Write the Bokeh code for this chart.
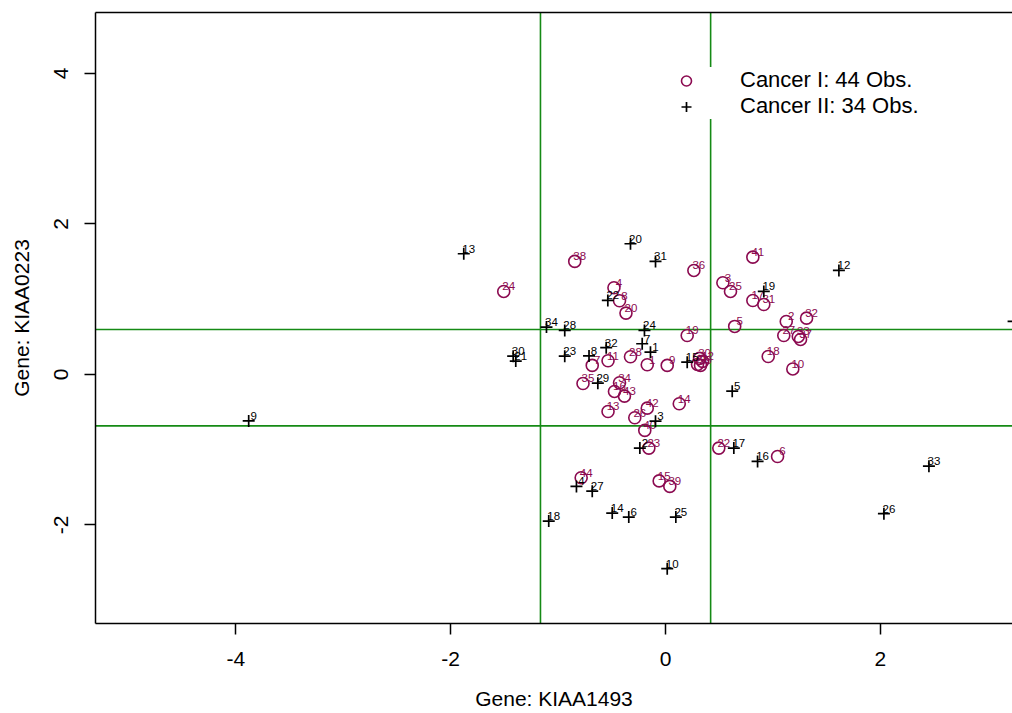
from bokeh.plotting import figure
from bokeh.models import (Span, Legend, LegendItem, FixedTicker, LinearAxis,
                          Range1d, ColumnDataSource)
from bokeh.embed import file_html
from bokeh.resources import INLINE
from bokeh.core.properties import value

# ---------------- data ----------------
c1_label = [str(i) for i in range(1, 45)]
c1_x = [-0.170, 1.124, 0.534, -0.480, 0.644, 1.043, -0.682, -0.428, 0.016, 1.185,
        -0.535, 0.345, -0.535, 0.128, -0.059, -0.475, 0.813, 0.956, 0.202, -0.368,
        0.298, 0.496, -0.155, -1.506, 0.605, -0.286, 1.101, -0.326, 0.326, 0.317,
        0.915, 1.313, 1.236, -0.428, -0.768, 0.264, 1.257, -0.845, 0.040, -0.193,
        0.813, -0.170, -0.382, -0.785]
c1_y = [0.129, 0.704, 1.219, 1.152, 0.638, -1.090, 0.120, 0.979, 0.120, 0.073,
        0.182, 0.173, -0.492, -0.389, -1.415, -0.226, 0.983, 0.239, 0.518, 0.815,
        0.133, -0.979, -0.979, 1.103, 1.103, -0.575, 0.518, 0.235, 0.120, 0.213,
        0.930, 0.748, 0.505, -0.110, -0.120, 1.382, 0.465, 1.502, -1.488, -0.744,
        1.559, -0.448, -0.288, -1.373]

c2_label = [str(i) for i in range(1, 35)]
c2_x = [-0.140, -0.239, -0.093, -0.829, 0.621, -0.342, -0.217, -0.712, -3.880, 0.016,
        3.240, 1.614, -1.878, -0.496, 0.202, 0.857, 0.636, -1.087, 0.915, -0.326,
        -1.394, -0.537, -0.938, -0.196, 0.096, 2.033, -0.682, -0.938, -0.630, -1.418,
        -0.093, -0.552, 2.452, -1.108]
c2_y = [0.296, -0.979, -0.621, -1.488, -0.222, -1.896, 0.408, 0.246, -0.618, -2.582,
        0.704, 1.382, 1.604, -1.843, 0.163, -1.156, -0.979, -1.949, 1.103, 1.737,
        0.177, 0.983, 0.243, 0.585, -1.896, -1.851, -1.551, 0.585, -0.116, 0.243,
        1.502, 0.355, -1.219, 0.629]

x_cuts = [-1.164, 0.42]
y_cuts = [0.598, -0.684]

x_ticks = [-4, -2, 0, 2]
x_tick_labels = ["-4", "-2", "0", "2"]
y_ticks = [-2, 0, 2, 4]
y_tick_labels = ["-2", "0", "2", "4"]

x_title = "Gene: KIAA1493"
y_title = "Gene: KIAA0223"

X_MIN, X_MAX = -5.306, 3.23
Y_MIN, Y_MAX = -3.31, 4.81

# ---------------- styles ----------------
PINK = "#8B0A50"
GREEN = "#158A15"
FONT = "Liberation Sans"

p = figure(width=1012, height=713, output_backend="svg", toolbar_location=None,
           x_range=Range1d(X_MIN, X_MAX), y_range=Range1d(Y_MIN, Y_MAX),
           min_border_left=95, min_border_right=0, min_border_top=12,
           min_border_bottom=90, x_axis_label=x_title, y_axis_label=y_title)
p.grid.visible = False
p.outline_line_color = None
p.background_fill_color = "white"
p.border_fill_color = "white"

for ax in (p.xaxis[0], p.yaxis[0]):
    ax.axis_line_width = 1.5
    ax.axis_line_color = "black"
    ax.major_tick_line_width = 1.5
    ax.major_tick_out = 11
    ax.major_tick_in = 0
    ax.minor_tick_line_color = None
    ax.major_label_text_font = FONT
    ax.major_label_text_font_size = "21px"
    ax.major_label_text_color = "black"
    ax.axis_label_text_font = FONT
    ax.axis_label_text_font_size = "21px"
    ax.axis_label_text_font_style = "normal"
    ax.axis_label_text_color = "black"

p.xaxis[0].ticker = FixedTicker(ticks=x_ticks)
p.xaxis[0].major_label_overrides = dict(zip(x_ticks, x_tick_labels))
p.xaxis[0].major_label_standoff = 17
p.xaxis[0].axis_label_standoff = 18

p.yaxis[0].ticker = FixedTicker(ticks=y_ticks)
p.yaxis[0].major_label_overrides = dict(zip(y_ticks, y_tick_labels))
p.yaxis[0].major_label_orientation = "vertical"
p.yaxis[0].major_label_standoff = 16
p.yaxis[0].axis_label_standoff = 19

top_axis = LinearAxis(ticker=FixedTicker(ticks=[]), major_label_text_font_size="0px",
                      axis_line_width=1.5, axis_line_color="black",
                      major_tick_out=0, major_tick_in=0, major_label_standoff=0,
                      minor_tick_line_color=None)
p.add_layout(top_axis, "above")

# cut-off lines
for xc in x_cuts:
    p.add_layout(Span(location=xc, dimension="height", line_color=GREEN,
                      line_width=1.6, level="underlay"))
for yc in y_cuts:
    p.add_layout(Span(location=yc, dimension="width", line_color=GREEN,
                      line_width=1.6, level="underlay"))

src1 = ColumnDataSource(dict(x=c1_x, y=c1_y, label=c1_label))
src2 = ColumnDataSource(dict(x=c2_x, y=c2_y, label=c2_label))

# labels only for points that lie inside the plotting frame
def inside(xs, ys, labels):
    keep = [i for i in range(len(xs)) if X_MIN < xs[i] < X_MAX and Y_MIN < ys[i] < Y_MAX]
    return dict(x=[xs[i] for i in keep], y=[ys[i] for i in keep],
                label=[labels[i] for i in keep])

lab1 = ColumnDataSource(inside(c1_x, c1_y, c1_label))
lab2 = ColumnDataSource(inside(c2_x, c2_y, c2_label))

r1 = p.scatter("x", "y", source=src1, marker="circle", size=12, fill_color=None,
               line_color=PINK, line_width=1.6)
p.text("x", "y", text="label", source=lab1, text_font=value(FONT),
       text_font_size="11.5px", text_color=PINK, text_align="center",
       text_baseline="alphabetic", x_offset=5, y_offset=-5)

r2 = p.scatter("x", "y", source=src2, marker="cross", size=12,
               line_color="black", line_width=1.7)
p.text("x", "y", text="label", source=lab2, text_font=value(FONT),
       text_font_size="11.5px", text_color="black", text_align="center",
       text_baseline="alphabetic", x_offset=5, y_offset=-5)

legend = Legend(items=[
    LegendItem(label=f"Cancer I: {len(c1_x)} Obs.", renderers=[r1]),
    LegendItem(label=f"Cancer II: {len(c2_x)} Obs.", renderers=[r2]),
], location=(576, 504), orientation="vertical",
    background_fill_color="white", background_fill_alpha=1.0,
    border_line_color=None, padding=12, margin=0, spacing=0,
    glyph_width=30, glyph_height=25, label_height=25, label_standoff=39,
    label_text_font=FONT, label_text_font_size="22px", label_text_color="black",
    label_text_baseline="middle")
p.add_layout(legend)

open("out.html", "w").write(file_html(p, INLINE))
